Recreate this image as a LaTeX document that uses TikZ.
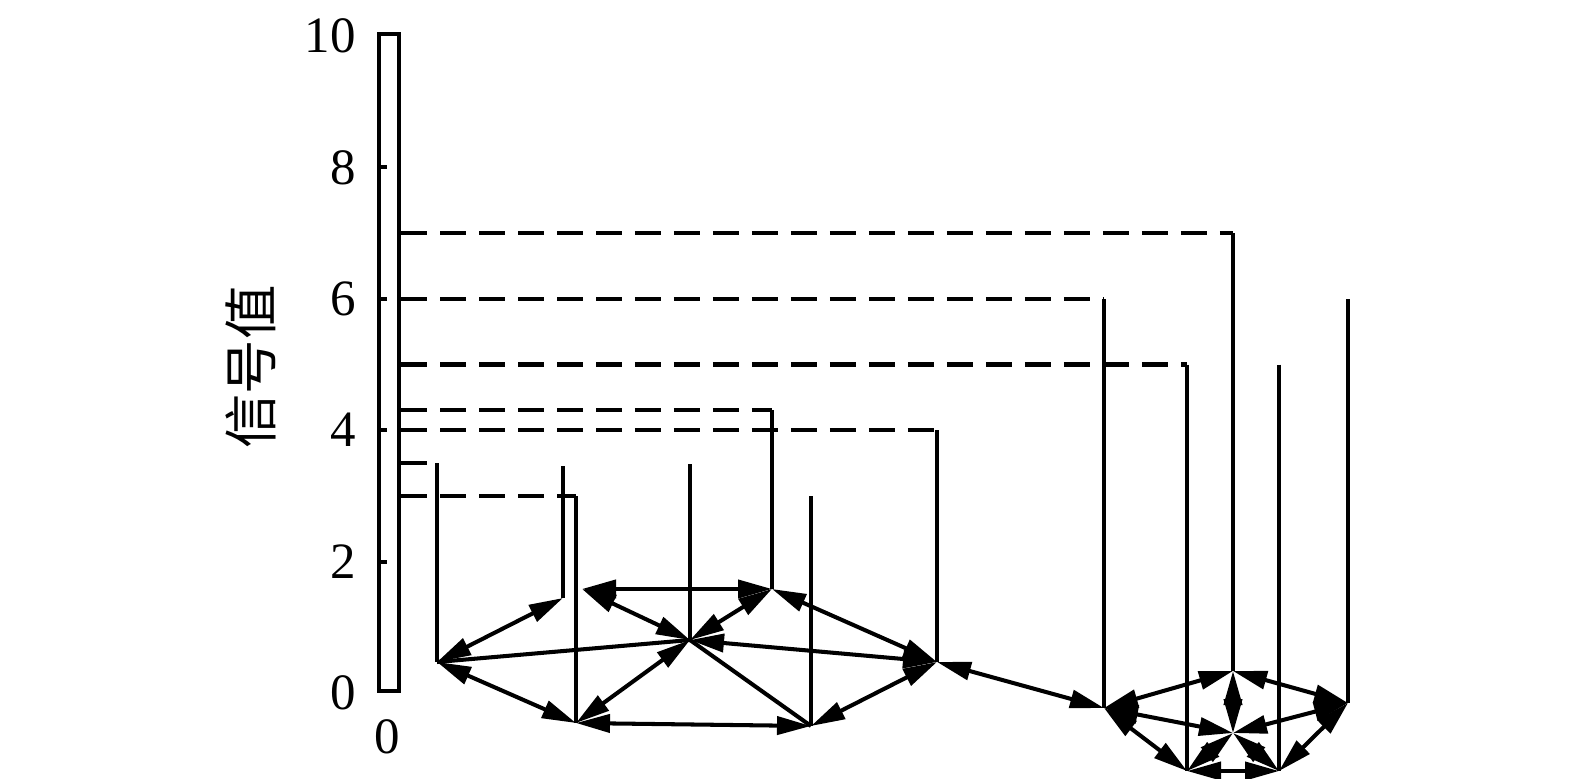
\documentclass[tikz,border=0pt]{standalone}
\usepackage{fontspec}
\setmainfont{Liberation Serif}
\newfontfamily\cjk{Noto Sans CJK SC}
\usetikzlibrary{arrows.meta}
\tikzset{
  ln/.style={line width=2.3pt},
  arr/.style={ln, {Triangle[length=0.68cm,width=0.36cm]}-{Triangle[length=0.68cm,width=0.36cm]}},
  lvl/.style={ln, dash pattern=on 0.52cm off 0.26cm},
  num/.style={font=\fontsize{29}{31}\selectfont, inner sep=0pt},
  ylab/.style={font=\cjk\fontsize{31}{33}\selectfont, inner sep=0pt, rotate=90}
}
\begin{document}
\begin{tikzpicture}[x=0.02cm,y=-0.02cm]
\useasboundingbox (0,0) rectangle (1575,778);
% axis bar
\node[draw, ln, minimum width=0.4cm, minimum height=13.14cm, inner sep=0pt, anchor=south west] (bar) at (377,693) {};
\foreach \v in {2,4,6,8}{
  \draw[ln] (bar.west |- 0,{693-65.7*\v}) -- ++(10,0);
}
\foreach \v in {0,2,4,6,8,10}{
  \node[num, anchor=east] (lab\v) at (356,{693-65.7*\v}) {\v};
}
\node[num] (lab0b) at (387,737) {0};
\node[ylab] (ytitle) at (251,367) {信号值};
% graph points
\coordinate (A) at (437,662);
\coordinate (B) at (563,598);
\coordinate (T1) at (582,589);
\coordinate (T2) at (772,589);
\coordinate (M) at (690,640);
\coordinate (D1) at (576,723);
\coordinate (D2) at (811,726);
\coordinate (E) at (937,662);
\coordinate (R1) at (1104,708);
\coordinate (R2) at (1233,671);
\coordinate (R3) at (1348,703);
\coordinate (R4) at (1187,771);
\coordinate (R5) at (1279,771);
\coordinate (R6) at (1233,733);
% level corners
\coordinate (kR2) at (1233,233);
\coordinate (kR1) at (1104,299);
\coordinate (kR4) at (1187,364.5);
\coordinate (kT2) at (772,410);
\coordinate (kE) at (937,430);
\coordinate (kA) at (437,463);
\coordinate (kD1) at (576,496);
\foreach \k in {R2,R1,R4,T2,E,A,D1}{
  \draw[lvl] (bar.east |- k\k) -- (k\k);
  \draw[ln] (k\k) -- (\k);
}
% plain signal lines
\coordinate (tB) at (563,466);
\coordinate (tM) at (690,464);
\coordinate (tD2) at (811,496);
\coordinate (tR5) at (1279,364.5);
\coordinate (tR3) at (1348,299);
\foreach \k in {B,M,D2,R5,R3}{
  \draw[ln] (t\k) -- (\k);
}
% left cluster
\draw[arr] (A) -- (B);
\draw[arr] (A) -- (D1);
\draw[ln] (A) -- (M);
\draw[arr] (T1) -- (T2);
\draw[arr] (T1) -- (M);
\draw[arr] (T2) -- (M);
\draw[arr] (T2) -- (E);
\draw[arr] (E) -- (M);
\draw[arr] (D1) -- (M);
\draw[ln] (M) -- (D2);
\draw[arr] (D1) -- (D2);
\draw[arr] (D2) -- (E);
\draw[arr] (E) -- (R1);
% right cluster
\draw[arr] (R1) -- (R2);
\draw[arr] (R2) -- (R3);
\draw[arr] (R2) -- (R6);
\draw[arr] (R1) -- (R6);
\draw[arr] (R3) -- (R6);
\draw[arr] (R1) -- (R4);
\draw[arr] (R4) -- (R6);
\draw[arr] (R5) -- (R6);
\draw[arr] (R4) -- (R5);
\draw[arr] (R3) -- (R5);
\end{tikzpicture}
\end{document}
